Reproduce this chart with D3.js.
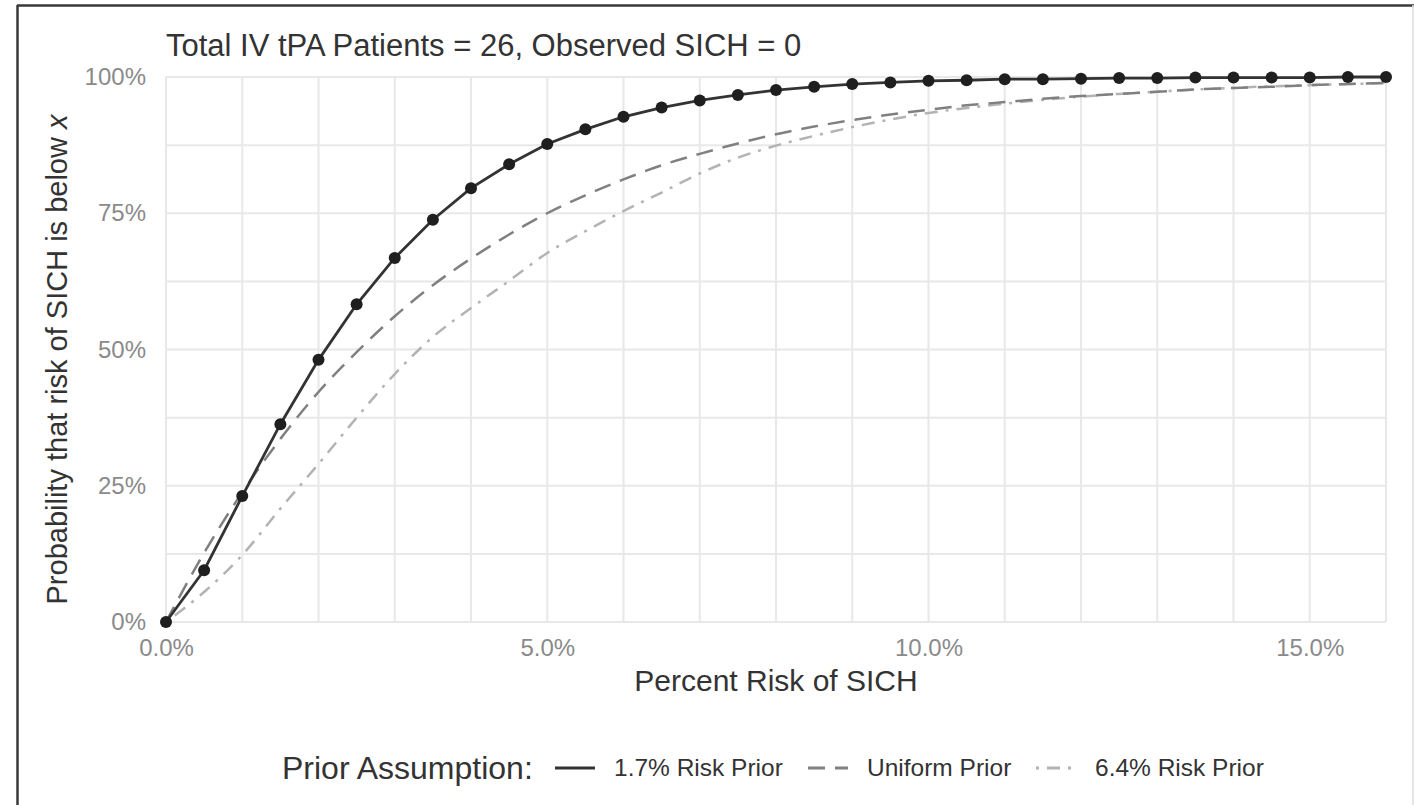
<!DOCTYPE html>
<html>
<head>
<meta charset="utf-8">
<script src="https://cdn.jsdelivr.net/npm/d3@7"></script>
<style>
  body { margin: 0; background: #fff; }
  svg { display: block; font-family: 'Liberation Sans', Arial, sans-serif; }
</style>
</head>
<body>
<div id="chart"></div>
<script>
// percent risk of SICH (x) in 0.5 steps
let riskPct = [0, 0.5, 1, 1.5, 2, 2.5, 3, 3.5, 4, 4.5, 5, 5.5, 6, 6.5, 7, 7.5, 8,
  8.5, 9, 9.5, 10, 10.5, 11, 11.5, 12, 12.5, 13, 13.5, 14, 14.5, 15, 15.5, 16]

// probability that risk is below x
let prior17 = [0, 9.5, 23.1, 36.3, 48.1, 58.3, 66.8, 73.8, 79.6, 84.0, 87.7, 90.4,
  92.7, 94.4, 95.7, 96.7, 97.6, 98.2, 98.7, 99.0, 99.3, 99.4, 99.6, 99.6, 99.7,
  99.8, 99.8, 99.9, 99.9, 99.9, 99.9, 100, 100]
let priorUniform = [0, 12.7, 23.8, 33.6, 42.2, 49.5, 56.1, 61.8, 66.7, 71.1, 75.0,
  78.3, 81.2, 83.8, 85.9, 87.8, 89.5, 90.9, 92.1, 93.1, 94.0, 94.8, 95.4, 96.0,
  96.5, 96.9, 97.3, 97.7, 98.0, 98.2, 98.5, 98.7, 98.9]
let prior64 = [0, 5.5, 12.3, 20.8, 29.0, 37.5, 45.5, 52.3, 57.6, 62.6, 67.7, 71.7,
  75.4, 78.8, 82.3, 85.2, 87.4, 89.2, 90.8, 92.2, 93.4, 94.3, 95.1, 95.8, 96.4,
  96.9, 97.3, 97.7, 98.0, 98.3, 98.5, 98.7, 98.9]

let xTicks = [0, 5, 10, 15]
let yTicks = [0, 25, 50, 75, 100]
let legendLabels = ['1.7% Risk Prior', 'Uniform Prior', '6.4% Risk Prior']

let width = 1414
let height = 805
let margin = { top: 77, left: 166, right: 28, bottom: 183 }

let svg = d3.select('#chart')
  .append('svg')
  .attr('width', width)
  .attr('height', height)

// outer frame
svg.append('line').attr('x1', 17.5).attr('x2', 17.5).attr('y1', 5).attr('y2', height)
  .attr('stroke', '#3a3a3a').attr('stroke-width', 2.5)
svg.append('line').attr('x1', 17).attr('x2', width).attr('y1', 5.5).attr('y2', 5.5)
  .attr('stroke', '#3a3a3a').attr('stroke-width', 2.5)
svg.append('line').attr('x1', width - 1).attr('x2', width - 1).attr('y1', 5).attr('y2', height)
  .attr('stroke', '#dddddd').attr('stroke-width', 1.5)

let xScale = d3.scaleLinear().domain([0, 16]).range([margin.left, width - margin.right])
let yScale = d3.scaleLinear().domain([0, 100]).range([height - margin.bottom, margin.top])

let g = svg.append('g')

// grid
g.selectAll('.vgrid')
  .data(d3.range(0, 17, 1))
  .enter()
  .append('line')
  .attr('class', 'vgrid')
  .attr('x1', d => xScale(d))
  .attr('x2', d => xScale(d))
  .attr('y1', yScale(0))
  .attr('y2', yScale(100))
  .attr('stroke', '#e8e8e8')
  .attr('stroke-width', 2)

g.selectAll('.hgrid')
  .data(d3.range(0, 101, 12.5))
  .enter()
  .append('line')
  .attr('class', 'hgrid')
  .attr('x1', xScale(0))
  .attr('x2', xScale(16))
  .attr('y1', d => yScale(d))
  .attr('y2', d => yScale(d))
  .attr('stroke', '#e8e8e8')
  .attr('stroke-width', 2)

// axes (text only, ggplot minimal style)
let xAxis = g.append('g')
  .attr('transform', `translate(0,${yScale(0) + 8})`)
  .call(d3.axisBottom(xScale).tickValues(xTicks).tickSize(0).tickFormat(d => d.toFixed(1) + '%'))
xAxis.select('.domain').remove()
xAxis.selectAll('text').attr('font-size', 24).attr('fill', '#8a8a8a').attr('dy', '0.95em')
  .attr('font-family', "'Liberation Sans', Arial, sans-serif")

let yAxis = g.append('g')
  .attr('transform', `translate(${xScale(0) - 17},0)`)
  .call(d3.axisLeft(yScale).tickValues(yTicks).tickSize(0).tickFormat(d => d + '%'))
yAxis.select('.domain').remove()
yAxis.selectAll('text').attr('font-size', 24).attr('fill', '#8a8a8a').attr('dx', 0)
  .attr('font-family', "'Liberation Sans', Arial, sans-serif")

let rows = riskPct.map((x, i) => ({ x: x, a: prior17[i], u: priorUniform[i], s: prior64[i] }))

let smooth = key => d3.line()
  .x(d => xScale(d.x))
  .y(d => yScale(d[key]))
  .curve(d3.curveMonotoneX)

g.append('path')
  .datum(rows)
  .attr('d', smooth('s'))
  .attr('fill', 'none')
  .attr('stroke', '#b3b3b3')
  .attr('stroke-width', 2.5)
  .attr('stroke-dasharray', '3,8,13,8')

g.append('path')
  .datum(rows)
  .attr('d', smooth('u'))
  .attr('fill', 'none')
  .attr('stroke', '#808080')
  .attr('stroke-width', 2.5)
  .attr('stroke-dasharray', '17,10')

g.append('path')
  .datum(rows)
  .attr('d', d3.line().x(d => xScale(d.x)).y(d => yScale(d.a)))
  .attr('fill', 'none')
  .attr('stroke', '#333333')
  .attr('stroke-width', 2.8)

g.selectAll('.pt')
  .data(rows)
  .enter()
  .append('circle')
  .attr('class', 'pt')
  .attr('cx', d => xScale(d.x))
  .attr('cy', d => yScale(d.a))
  .attr('r', 6)
  .attr('fill', '#1f1f1f')

// titles
svg.append('text')
  .attr('x', margin.left)
  .attr('y', 56)
  .attr('font-size', 31)
  .attr('fill', '#333')
  .text('Total IV tPA Patients = 26, Observed SICH = 0')

svg.append('text')
  .attr('x', (xScale(0) + xScale(16)) / 2)
  .attr('y', 691)
  .attr('text-anchor', 'middle')
  .attr('font-size', 30)
  .attr('fill', '#333')
  .text('Percent Risk of SICH')

let yTitle = svg.append('text')
  .attr('transform', `translate(67,${(yScale(0) + yScale(100)) / 2 + 10}) rotate(-90)`)
  .attr('text-anchor', 'middle')
  .attr('font-size', 29)
  .attr('fill', '#333')
yTitle.append('tspan').text('Probability that risk of SICH is below ')
yTitle.append('tspan').attr('font-style', 'italic').text('x')

// legend
let legend = svg.append('g').attr('transform', 'translate(0,768)')
legend.append('text')
  .attr('x', 282)
  .attr('y', 11)
  .attr('font-size', 32)
  .attr('fill', '#333')
  .text('Prior Assumption:')

let keyX = [555, 808, 1036]
let keyStyles = [
  { stroke: '#333333', dash: null },
  { stroke: '#808080', dash: '17,10' },
  { stroke: '#b3b3b3', dash: '3,8,13,8' }
]

legend.selectAll('.key')
  .data(legendLabels)
  .enter()
  .append('line')
  .attr('class', 'key')
  .attr('x1', (d, i) => keyX[i])
  .attr('x2', (d, i) => keyX[i] + 40)
  .attr('y1', 0)
  .attr('y2', 0)
  .attr('stroke', (d, i) => keyStyles[i].stroke)
  .attr('stroke-width', 2.8)
  .attr('stroke-dasharray', (d, i) => keyStyles[i].dash)

legend.selectAll('.key-label')
  .data(legendLabels)
  .enter()
  .append('text')
  .attr('class', 'key-label')
  .attr('x', (d, i) => keyX[i] + 59)
  .attr('y', 8)
  .attr('font-size', 24.5)
  .attr('fill', '#333')
  .text(d => d)
</script>
</body>
</html>
